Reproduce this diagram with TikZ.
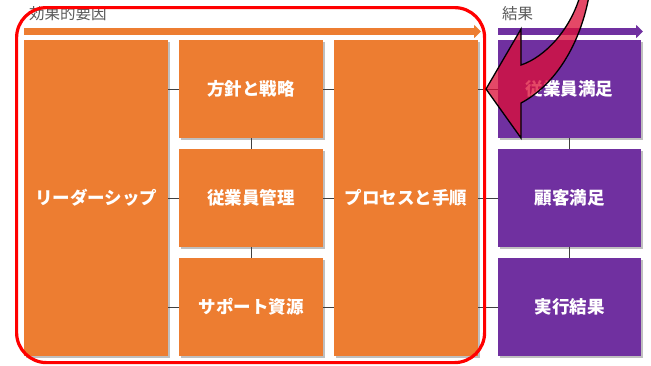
\documentclass[tikz,border=0pt]{standalone}
\usepackage{fontspec}
\newfontfamily\jp{Noto Sans CJK JP}
\usetikzlibrary{arrows.meta,shadows}
\definecolor{orng}{RGB}{237,125,49}
\definecolor{purp}{RGB}{112,48,160}
\definecolor{lblgray}{RGB}{89,89,89}
\definecolor{conn}{RGB}{64,64,64}
\definecolor{callout}{RGB}{220,15,55}
\tikzset{
  boxbase/.style={anchor=north west, inner sep=0pt, text=white,
    font=\jp\bfseries\fontsize{17.5}{19}\selectfont,
    drop shadow={shadow xshift=1.5pt, shadow yshift=-1.5pt, opacity=0.25, fill=black}},
  obox/.style={boxbase, fill=orng},
  pbox/.style={boxbase, fill=purp},
  tall/.style={minimum width=144pt, minimum height=316pt},
  cell/.style={minimum width=144pt, minimum height=98pt},
  pcell/.style={minimum width=143pt, minimum height=98pt},
  lbl/.style={anchor=west, inner sep=0pt, text=lblgray, font=\jp\fontsize{15.5}{17}\selectfont},
  conline/.style={draw=conn, line width=1.3pt},
  toparrow/.style={line width=7pt, -{Triangle[length=7pt,width=13pt]}},
  frame/.style={draw=red, line width=3.2pt, rounded corners=30pt, anchor=north west, inner sep=0pt,
    minimum width=468pt, minimum height=355pt},
}
\begin{document}
\begin{tikzpicture}[x=1pt,y=-1pt]
\useasboundingbox (0,0) rectangle (651,365);
% labels
\node[lbl] (lf) at (29,14) {効果的要因};
\node[lbl] (lr) at (502,14) {結果};
% top arrows
\coordinate (oa1) at (24,31.5);
\coordinate (oa2) at (481,31.5);
\coordinate (pa1) at (498,31.5);
\coordinate (pa2) at (643,31.5);
\draw[toparrow, orng] (oa1) -- (oa2);
\draw[toparrow, purp] (pa1) -- (pa2);
% boxes
\node[obox, tall] (lead) at (24,40) {リーダーシップ};
\node[obox, cell] (s1) at (179,40) {方針と戦略};
\node[obox, cell] (s2) at (179,149) {従業員管理};
\node[obox, cell] (s3) at (179,258) {サポート資源};
\node[obox, tall] (proc) at (334,40) {プロセスと手順};
\node[pbox, pcell] (r1) at (498,40) {従業員満足};
\node[pbox, pcell] (r2) at (498,149) {顧客満足};
\node[pbox, pcell] (r3) at (498,258) {実行結果};
% connectors
\foreach \s in {s1,s2,s3}{
  \draw[conline] (lead.east |- \s.west) -- (\s.west);
  \draw[conline] (\s.east) -- (proc.west |- \s.east);
}
\foreach \r in {r1,r2,r3}{
  \draw[conline] (proc.east |- \r.west) -- (\r.west);
}
\draw[conline] (s1.south) -- (s2.north);
\draw[conline] (s2.south) -- (s3.north);
\draw[conline] (r1.south) -- (r2.north);
\draw[conline] (r2.south) -- (r3.north);
% red frame
\node[frame] (fr) at (15,6) {};
% callout arrow
\begin{scope}
\clip (0,0) rectangle (651,365);
\filldraw[fill=callout, fill opacity=0.76, draw=black, line width=1.3pt, line join=miter]
  (486,89) -- (521,29) -- (521,65)
  .. controls (545,57) and (570,30) .. (580,-4)
  -- (589,-4)
  .. controls (580,45) and (555,85) .. (521,103)
  -- (521,138) -- cycle;
\end{scope}
\end{tikzpicture}
\end{document}
